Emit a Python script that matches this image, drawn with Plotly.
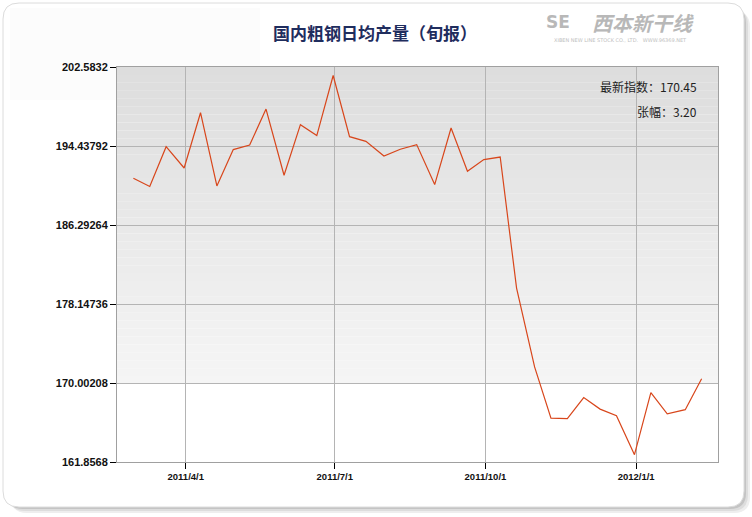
import plotly.graph_objects as go

# ---------------- data ----------------
dates = [
    "2011-02-28", "2011-03-10", "2011-03-20", "2011-03-31",
    "2011-04-10", "2011-04-20", "2011-04-30",
    "2011-05-10", "2011-05-20", "2011-05-31",
    "2011-06-10", "2011-06-20", "2011-06-30",
    "2011-07-10", "2011-07-20", "2011-07-31",
    "2011-08-10", "2011-08-20", "2011-08-31",
    "2011-09-10", "2011-09-20", "2011-09-30",
    "2011-10-10", "2011-10-20", "2011-10-31",
    "2011-11-10", "2011-11-20", "2011-11-30",
    "2011-12-10", "2011-12-20", "2011-12-31",
    "2012-01-10", "2012-01-20", "2012-01-31",
    "2012-02-10",
]
values = [
    191.11, 190.26, 194.37, 192.17,
    197.87, 190.32, 194.07,
    194.54, 198.24, 191.42,
    196.64, 195.51, 201.71,
    195.40, 194.92, 193.41,
    194.10, 194.58, 190.46,
    196.29, 191.83, 193.04,
    193.30, 179.79, 171.66,
    166.38, 166.34, 168.50,
    167.31, 166.62, 162.61,
    169.02, 166.83, 167.25,
    170.45,
]
y_tick_vals = [161.8568, 170.00208, 178.14736, 186.29264, 194.43792, 202.5832]
y_tick_text = ["161.8568", "170.00208", "178.14736", "186.29264", "194.43792", "202.5832"]
x_tick_vals = ["2011-04-01", "2011-07-01", "2011-10-01", "2012-01-01"]
x_tick_text = ["2011/4/1", "2011/7/1", "2011/10/1", "2012/1/1"]
title_text = "国内粗钢日均产量（旬报）"
latest_label = "最新指数：170.45"
change_label = "张幅：3.20"

# ---------------- layout geometry ----------------
W, H = 752, 517
ML, MR, MT, MB = 117, 34, 67, 55
PW, PH = W - ML - MR, H - MT - MB


def px_x(px):
    return (px - ML) / PW


def px_y(py):
    return (H - MB - py) / PH


def rounded_rect(x0, y0, x1, y1, r):
    X = px_x
    Y = px_y
    return (f"M {X(x0 + r)},{Y(y0)} L {X(x1 - r)},{Y(y0)} "
            f"Q {X(x1)},{Y(y0)} {X(x1)},{Y(y0 + r)} "
            f"L {X(x1)},{Y(y1 - r)} Q {X(x1)},{Y(y1)} {X(x1 - r)},{Y(y1)} "
            f"L {X(x0 + r)},{Y(y1)} Q {X(x0)},{Y(y1)} {X(x0)},{Y(y1 - r)} "
            f"L {X(x0)},{Y(y0 + r)} Q {X(x0)},{Y(y0)} {X(x0 + r)},{Y(y0)} Z")


shapes = []
# shadow
for off, col in [(7, "#eeeeee"), (5, "#dddddd"), (3, "#c4c4c4"), (1, "#b0b0b0")]:
    shapes.append(dict(type="path", xref="paper", yref="paper", layer="below",
                       path=rounded_rect(4 + off, 4 + off, 744 + off - 1, 507 + off - 1, 16),
                       fillcolor=col, line=dict(width=0)))
# card
shapes.append(dict(type="path", xref="paper", yref="paper", layer="below",
                   path=rounded_rect(3, 3, 744, 507, 16),
                   fillcolor="#ffffff", line=dict(color="#dcdcdc", width=1)))
# faint texture area top-left of card
shapes.append(dict(type="rect", xref="paper", yref="paper", layer="below",
                   x0=px_x(10), x1=px_x(260), y0=px_y(100), y1=px_y(8),
                   fillcolor="#fcfcfc", line=dict(width=0)))

# gradient in plot area (top gray -> near white at the 170 line)
n = 40
g_top, g_bot = 1.0, px_y(384)
for i in range(n):
    t = i / (n - 1)
    c = int(round(221 + (245 - 221) * t))
    y1 = g_top - (g_top - g_bot) * i / n
    y0 = g_top - (g_top - g_bot) * (i + 1) / n
    shapes.append(dict(type="rect", xref="paper", yref="paper", layer="below",
                       x0=0, x1=1, y0=y0, y1=y1,
                       fillcolor=f"rgb({c},{c},{c})", line=dict(width=0)))
# white plot area below gradient
shapes.append(dict(type="rect", xref="paper", yref="paper", layer="below",
                   x0=0, x1=1, y0=0, y1=g_bot, fillcolor="#ffffff", line=dict(width=0)))

fig = go.Figure()
fig.add_trace(go.Scatter(
    x=dates, y=values, mode="lines",
    line=dict(color="#d8461b", width=1.2),
    hoverinfo="x+y", showlegend=False,
))

annotations = [
    dict(text=title_text, xref="paper", yref="paper", x=px_x(375), y=px_y(33),
         xanchor="center", yanchor="middle", showarrow=False,
         font=dict(family="Noto Sans CJK SC", size=17, color="#1f2d5e", weight="bold")),
    dict(text=latest_label, xref="paper", yref="paper", x=px_x(699), y=px_y(86),
         xanchor="right", yanchor="middle", showarrow=False,
         font=dict(family="Noto Sans CJK SC", size=12, color="#222222")),
    dict(text=change_label, xref="paper", yref="paper", x=px_x(699), y=px_y(111),
         xanchor="right", yanchor="middle", showarrow=False,
         font=dict(family="Noto Sans CJK SC", size=12, color="#222222")),
    dict(text="<i>西本新干线</i>", xref="paper", yref="paper", x=px_x(643), y=px_y(22),
         xanchor="center", yanchor="middle", showarrow=False,
         font=dict(family="Noto Sans CJK SC", size=20, color="#b8b8b8", weight="bold")),
    dict(text="<b>SE</b>", xref="paper", yref="paper", x=px_x(558), y=px_y(22),
         xanchor="center", yanchor="middle", showarrow=False,
         font=dict(family="DejaVu Sans", size=17, color="#b8b8b8")),
    dict(text="XIBEN NEW LINE STOCK CO., LTD.   WWW.96369.NET", xref="paper", yref="paper",
         x=px_x(620), y=px_y(40), xanchor="center", yanchor="middle", showarrow=False,
         font=dict(family="DejaVu Sans", size=5, color="#c0c0c0")),
]

fig.update_layout(
    width=W, height=H,
    margin=dict(l=ML, r=MR, t=MT, b=MB, pad=0),
    paper_bgcolor="#ffffff",
    plot_bgcolor="rgba(0,0,0,0)",
    shapes=shapes,
    annotations=annotations,
    showlegend=False,
    xaxis=dict(
        type="date", range=["2011-02-18", "2012-02-20"],
        tickvals=x_tick_vals, ticktext=x_tick_text,
        showgrid=True, gridcolor="#b4b4b4", gridwidth=1,
        showline=True, linecolor="#a0a0a0", linewidth=1, mirror=True,
        ticks="outside", ticklen=6, tickcolor="#000000", tickwidth=1,
        tickfont=dict(family="Liberation Sans", size=9.5, color="#111111", weight="bold"),
        zeroline=False,
    ),
    yaxis=dict(
        range=[161.8568, 202.5832],
        tickvals=y_tick_vals, ticktext=y_tick_text,
        showgrid=True, gridcolor="#b4b4b4", gridwidth=1,
        showline=True, linecolor="#a0a0a0", linewidth=1, mirror=True,
        ticks="outside", ticklen=6, tickcolor="#000000", tickwidth=1,
        tickfont=dict(family="Liberation Sans", size=11, color="#111111", weight="bold"),
        zeroline=False,
    ),
)

fig.write_html("out.html", config={"displayModeBar": False},
               post_script="document.body.style.margin='0';")
